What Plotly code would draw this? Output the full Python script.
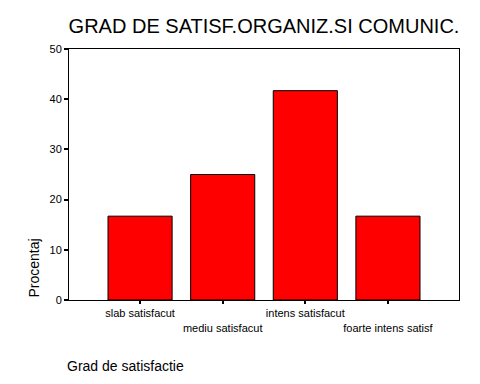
import plotly.graph_objects as go

categories = ["slab satisfacut", "mediu satisfacut", "intens satisfacut", "foarte intens satisf"]
values = [16.7, 25.0, 41.7, 16.7]
y_ticks = [0, 10, 20, 30, 40, 50]

# staggered category labels (every second one on a lower line)
tick_text = [c if i % 2 == 0 else "<br>" + c for i, c in enumerate(categories)]

fig = go.Figure(go.Bar(
    x=list(range(len(categories))),
    y=values,
    width=0.776,
    marker=dict(color="#FF0000", line=dict(color="black", width=1)),
))

font = "Liberation Sans, Arial, sans-serif"
fig.update_layout(
    width=480, height=384,
    margin=dict(l=61, r=29, t=41, b=92, autoexpand=False),
    paper_bgcolor="white", plot_bgcolor="white",
    showlegend=False,
    font=dict(family=font, color="black", size=11),
    title=dict(text="GRAD DE SATISF.ORGANIZ.SI COMUNIC.", x=256 / 480, xanchor="center",
               y=1 - 18 / 384, yanchor="middle", font=dict(size=20, family=font, color="black")),
    xaxis=dict(range=[-0.86, 3.86], tickmode="array", tickvals=list(range(len(categories))),
               ticktext=tick_text, tickangle=0, automargin=False,
               ticks="outside", ticklen=3, tickwidth=2, tickcolor="black",
               showline=True, linecolor="black", linewidth=1, mirror=True,
               showgrid=False, zeroline=False, tickfont=dict(size=11)),
    yaxis=dict(range=[0, 50], tickmode="array", tickvals=y_ticks, automargin=False,
               ticks="outside", ticklen=4, tickwidth=2, tickcolor="black",
               showline=True, linecolor="black", linewidth=1, mirror=True,
               showgrid=False, zeroline=False, tickfont=dict(size=11)),
    annotations=[
        dict(text="Procentaj", xref="paper", yref="paper", x=(33 - 69) / 390, y=0,
             xanchor="center", yanchor="bottom", textangle=-90, showarrow=False,
             font=dict(size=14, family=font, color="black")),
        dict(text="Grad de satisfactie", xref="paper", yref="paper", x=-0.009, y=(300 - 366) / 251,
             xanchor="left", yanchor="middle", showarrow=False,
             font=dict(size=14, family=font, color="black")),
    ],
)

fig.write_html("out.html")
